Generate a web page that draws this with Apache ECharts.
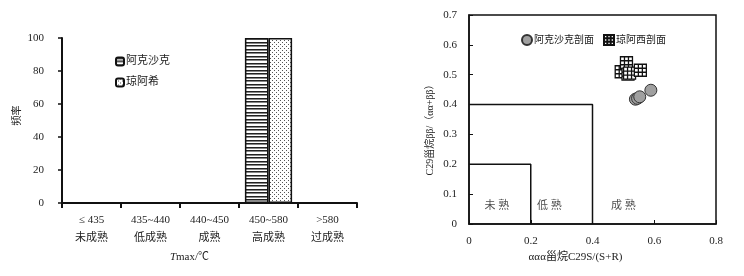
<!DOCTYPE html>
<html><head><meta charset="utf-8">
<script src="https://cdn.jsdelivr.net/npm/echarts@6/dist/echarts.min.js"></script>
<style>html,body{margin:0;padding:0;background:#fff}#c{width:744px;height:276px}</style>
</head><body><div id="c"></div>
<script>
// ---- data ----
const tmaxRanges = ['≤ 435', '435~440', '440~450', '450~580', '>580'];
const tmaxStages = ['未成熟', '低成熟', '成熟', '高成熟', '过成熟'];
const akeshakeFreq = [0, 0, 0, 100, 0];
const qiongaxiFreq = [0, 0, 0, 100, 0];
const freqTicks = [0, 20, 40, 60, 80, 100];

const akeshakeSRX = [0.539, 0.546, 0.553, 0.589];
const akeshakeSRY = [0.418, 0.421, 0.426, 0.448];
const qiongaxiSRX = [0.493, 0.510, 0.515, 0.520, 0.555];
const qiongaxiSRY = [0.510, 0.540, 0.502, 0.505, 0.515];

const immatureBound = 0.2;
const lowMatureBound = 0.4;
const zoneNames = ['未熟', '低熟', '成熟'];
const zoneLabelX = [0.09, 0.26, 0.50];
const zoneLabelY = [0.06, 0.06, 0.06];

// ---- patterns ----
function mk(w, h, draw) { const c = document.createElement('canvas'); c.width = w; c.height = h; const g = c.getContext('2d'); g.fillStyle = '#fff'; g.fillRect(0, 0, w, h); draw(g); return c; }
const stripePat = mk(4, 7, g => { g.fillStyle = '#222'; g.fillRect(0, 0, 4, 1); g.fillRect(0, 3, 4, 1); g.fillStyle = '#888'; g.fillRect(0, 1, 4, 1); g.fillRect(0, 4, 4, 1); });
const dotPat = mk(4, 4, g => { g.fillStyle = '#555'; g.fillRect(0, 0, 1, 1); g.fillRect(2, 2, 1, 1); });
const gridSymbol = 'path://M0 0H3V3H0Z M1 0V3 M2 0V3 M0 1H3 M0 2H3';

const SERIF = '"Liberation Serif","Noto Sans CJK SC",serif';
const txt = { fontFamily: SERIF, fontSize: 11, color: '#222' };

const chart = echarts.init(document.getElementById('c'), null, { renderer: 'canvas' });
chart.setOption({
  animation: false,
  backgroundColor: '#fff',
  textStyle: { fontFamily: SERIF },
  grid: [
    { left: 62, right: 387, top: 38, bottom: 73 },
    { left: 469, right: 28, top: 15, bottom: 52, show: true, borderColor: '#111', borderWidth: 1.5, backgroundColor: 'transparent' }
  ],
  legend: [
    { orient: 'vertical', left: 110, top: 51, itemWidth: 8, itemHeight: 8, itemGap: 10, textStyle: Object.assign({}, txt, { padding: [0, 0, 0, -3] }),
      data: ['阿克沙克', '琼阿希'] },
    { orient: 'horizontal', left: 516, top: 29, itemWidth: 10, itemHeight: 10, itemGap: 9, textStyle: Object.assign({}, txt, { fontSize: 10, padding: [0, 0, 0, -3] }),
      data: ['阿克沙克剖面', '琼阿西剖面'] }
  ],
  xAxis: [
    { gridIndex: 0, type: 'category', data: tmaxRanges.map((r, i) => r + '\n' + tmaxStages[i]),
      axisLine: { lineStyle: { color: '#111', width: 2 } },
      axisTick: { show: true, length: 5, lineStyle: { color: '#111', width: 2 } },
      axisLabel: Object.assign({}, txt, { margin: 8, lineHeight: 18 }),
      name: '{i|T}max/℃', nameLocation: 'middle', nameGap: 48,
      nameTextStyle: Object.assign({}, txt, { padding: [0, 40, 0, 0], rich: { i: { fontStyle: 'italic', fontFamily: SERIF, fontSize: 11, color: '#222' } } }) },
    { gridIndex: 1, type: 'value', min: 0, max: 0.8, interval: 0.2,
      axisLine: { show: true, lineStyle: { color: '#111', width: 1.5 } },
      axisTick: { show: true, inside: true, length: 4, lineStyle: { color: '#111' } },
      splitLine: { show: false },
      axisLabel: Object.assign({}, txt, { margin: 12, formatter: v => v === 0 ? '0' : v.toFixed(1) }),
      name: 'ααα甾烷C29S/(S+R)', nameLocation: 'middle', nameGap: 28,
      nameTextStyle: Object.assign({}, txt, { padding: [0, 34, 0, 0] }) }
  ],
  yAxis: [
    { gridIndex: 0, type: 'value', min: freqTicks[0], max: freqTicks[freqTicks.length - 1], interval: 20,
      axisLine: { show: true, lineStyle: { color: '#111', width: 2 } },
      axisTick: { show: true, length: 4, lineStyle: { color: '#111', width: 1.5 } },
      splitLine: { show: false },
      axisLabel: Object.assign({}, txt, { margin: 18 }),
      name: '频率', nameLocation: 'middle', nameGap: 40, nameRotate: 90,
      nameTextStyle: Object.assign({}, txt, { fontSize: 10, padding: [0, 0, 0, 10] }) },
    { gridIndex: 1, type: 'value', min: 0, max: 0.7, interval: 0.1,
      axisLine: { show: true, lineStyle: { color: '#111', width: 1.5 } },
      axisTick: { show: true, inside: true, length: 4, lineStyle: { color: '#111' } },
      splitLine: { show: false },
      axisLabel: Object.assign({}, txt, { margin: 12, formatter: v => v === 0 ? '0' : v.toFixed(1) }),
      name: 'C29甾烷ββ/（αα+ββ）', nameLocation: 'middle', nameGap: 34, nameRotate: 90,
      nameTextStyle: Object.assign({}, txt, { fontSize: 10, padding: [0, 16, 0, 0] }) }
  ],
  series: [
    { name: '阿克沙克', type: 'bar', xAxisIndex: 0, yAxisIndex: 0, data: akeshakeFreq, barGap: '0%', barCategoryGap: '20%',
      itemStyle: { color: { image: stripePat, repeat: 'repeat' }, borderColor: '#111', borderWidth: 1.5 } },
    { name: '琼阿希', type: 'bar', xAxisIndex: 0, yAxisIndex: 0, data: qiongaxiFreq,
      itemStyle: { color: { image: dotPat, repeat: 'repeat' }, borderColor: '#111', borderWidth: 1.5 } },
    { name: 'bound1', type: 'line', xAxisIndex: 1, yAxisIndex: 1, symbol: 'none', silent: true,
      data: [[0, immatureBound], [immatureBound, immatureBound], [immatureBound, 0]], lineStyle: { color: '#111', width: 1.5 } },
    { name: 'bound2', type: 'line', xAxisIndex: 1, yAxisIndex: 1, symbol: 'none', silent: true,
      data: [[0, lowMatureBound], [lowMatureBound, lowMatureBound], [lowMatureBound, 0]], lineStyle: { color: '#111', width: 1.5 } },
    { name: 'zones', type: 'scatter', xAxisIndex: 1, yAxisIndex: 1, symbolSize: 0, silent: true,
      data: zoneNames.map((n, i) => ({ value: [zoneLabelX[i], zoneLabelY[i]], name: n })),
      label: { show: true, position: 'inside', formatter: p => p.name.split('').join(' '), fontFamily: SERIF, fontSize: 11, color: '#222' } },
    { name: '琼阿西剖面', type: 'scatter', xAxisIndex: 1, yAxisIndex: 1, symbol: gridSymbol, symbolSize: 12,
      data: qiongaxiSRX.map((x, i) => [x, qiongaxiSRY[i]]),
      itemStyle: { color: '#fff', borderColor: '#111', borderWidth: 1.3, opacity: 1 } },
    { name: '阿克沙克剖面', type: 'scatter', xAxisIndex: 1, yAxisIndex: 1, symbol: 'circle', symbolSize: 12,
      data: akeshakeSRX.map((x, i) => [x, akeshakeSRY[i]]),
      itemStyle: { color: '#a0a0a0', borderColor: '#333', borderWidth: 1, opacity: 1 } }
  ]
});
</script></body></html>
